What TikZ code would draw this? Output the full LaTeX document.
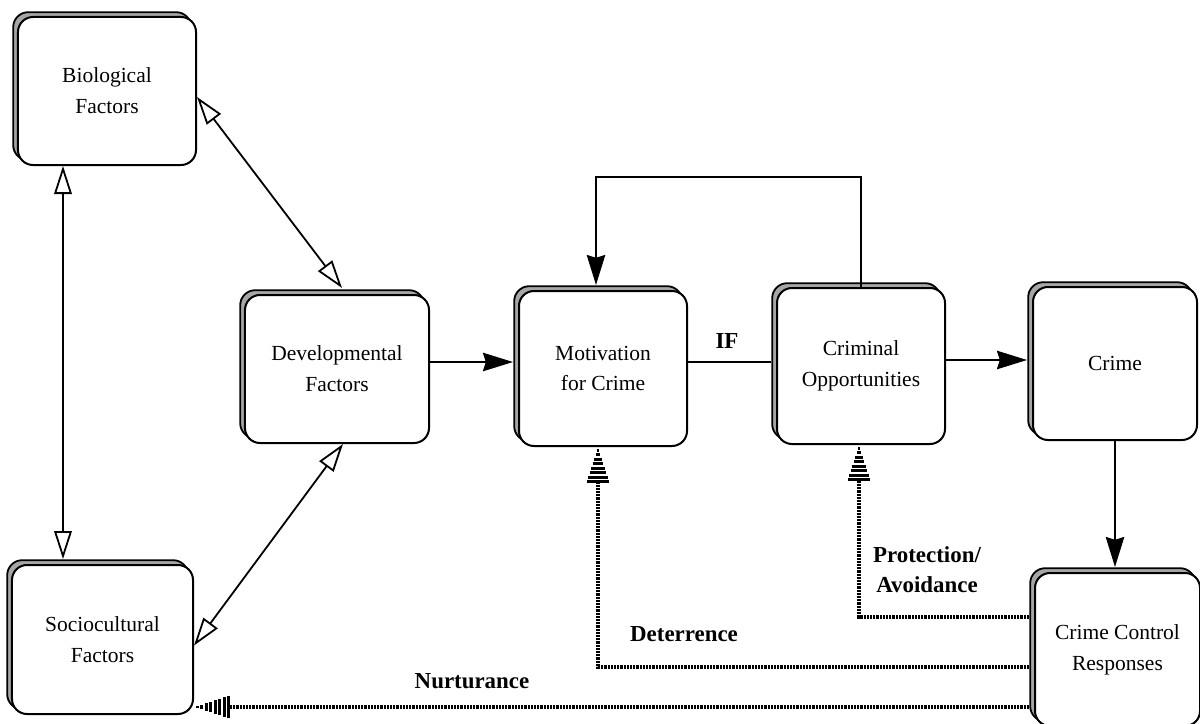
\documentclass[tikz,border=0pt]{standalone}
\usepackage{fontspec}
\setmainfont{Liberation Serif}
\usetikzlibrary{arrows.meta,shadows,calc}

\begin{document}
\begin{tikzpicture}[x=0.25mm,y=-0.25mm,
  factorbox/.style={draw, line width=0.5mm, rounded corners=3.75mm, fill=white,
    align=center, inner sep=0pt, font=\fontsize{15.3}{22}\selectfont,
    general shadow={shadow xshift=-1.2mm, shadow yshift=1.2mm,
      fill=gray!70, draw=black, line width=0.45mm}},
  lab/.style={inner sep=0pt, align=center, font=\fontsize{16.3}{21.3}\selectfont\bfseries},
  flow/.style={line width=0.5mm, -{Stealth[length=7.5mm, width=4.6mm, inset=0.7mm]}},
  mutual/.style={line width=0.45mm,
    {Triangle[open, fill=white, length=7mm, width=4.4mm]}-{Triangle[open, fill=white, length=7mm, width=4.4mm]}},
  response/.style={line width=0.8mm, dash pattern=on 0.55mm off 0.25mm},
  hatchtip/.pic={
    \foreach \d in {3,7.5,...,35}{
      \draw[solid, line width=0.75mm] (36-\d, -\d*0.32) -- (36-\d, \d*0.32);
    }
  }
]
\useasboundingbox (0,0) rectangle (1200,724);
\clip (0,0) rectangle (1200,724);

% boxes
\node[factorbox, minimum width=44.5mm, minimum height=37mm] (bio) at (107,91) {Biological\\Factors};
\node[factorbox, minimum width=45.25mm, minimum height=37.25mm] (socio) at (102.5,639.5) {Sociocultural\\Factors};
\node[factorbox, minimum width=46mm, minimum height=37mm] (dev) at (337,369) {Developmental\\Factors};
\node[factorbox, minimum width=42mm, minimum height=38.75mm] (mot) at (603,368.5) {Motivation\\for Crime};
\node[factorbox, minimum width=42mm, minimum height=39mm] (crim) at (861,366) {Criminal\\Opportunities};
\node[factorbox, minimum width=41mm, minimum height=38.25mm] (crime) at (1115,363.5) {Crime};
\node[factorbox, minimum width=41.25mm, minimum height=38.25mm] (ctrl) at (1117.5,649.5) {Crime Control\\Responses};

% reference levels
\coordinate (xcol) at (63,0);
\coordinate (ylink) at (0,362);
\coordinate (yloop) at (0,177);
\coordinate (yprot) at (0,617);
\coordinate (ydet) at (0,667);
\coordinate (ynur) at (0,707);

% mutual influences among background factors
\draw[mutual] (bio.south -| xcol) -- ($(socio.north -| xcol)+(0,-5)$);
\draw[mutual] ($(bio.east)+(0,6)$) -- ($(dev.north)+(5,-6)$);
\draw[mutual] ($(dev.south)+(6,0)$) -- ($(socio.east)+(0,6)$);

% main causal chain
\draw[flow] (dev.east |- ylink) -- ($(mot.west |- ylink)+(-5,0)$);
\draw[line width=0.5mm] (mot.east |- ylink) -- ($(crim.west |- ylink)+(-5,0)$);
\node[lab] (iflab) at (727,341) {IF};
\draw[flow] ($(crim.east |- ylink)+(0,-2)$) -- ($(crime.west |- ylink)+(-5,-2)$);
\draw[flow] (crime.south) -- ($(ctrl.north -| crime.south)+(0,-5)$);
\draw[flow] (crim.north) -- (crim.north |- yloop) -| ($(mot.north)+(-7,-5)$);

% responses fed back
\draw[response] ($(ctrl.west |- yprot)+(-5,0)$) -| ($(crim.south)+(-2,36)$) pic[rotate=90] {hatchtip};
\draw[response] ($(ctrl.west |- ydet)+(-5,0)$) -| ($(mot.south)+(-5,36)$) pic[rotate=90] {hatchtip};
\draw[response] ($(ctrl.west |- ynur)+(-5,0)$) -- ($(socio.east |- ynur)+(36,0)$) pic[rotate=180] {hatchtip};

\node[lab] (protlab) at (927,570) {Protection/\\Avoidance};
\node[lab] (detlab) at (684,634) {Deterrence};
\node[lab] (nurlab) at (472,681) {Nurturance};
\end{tikzpicture}
\end{document}
